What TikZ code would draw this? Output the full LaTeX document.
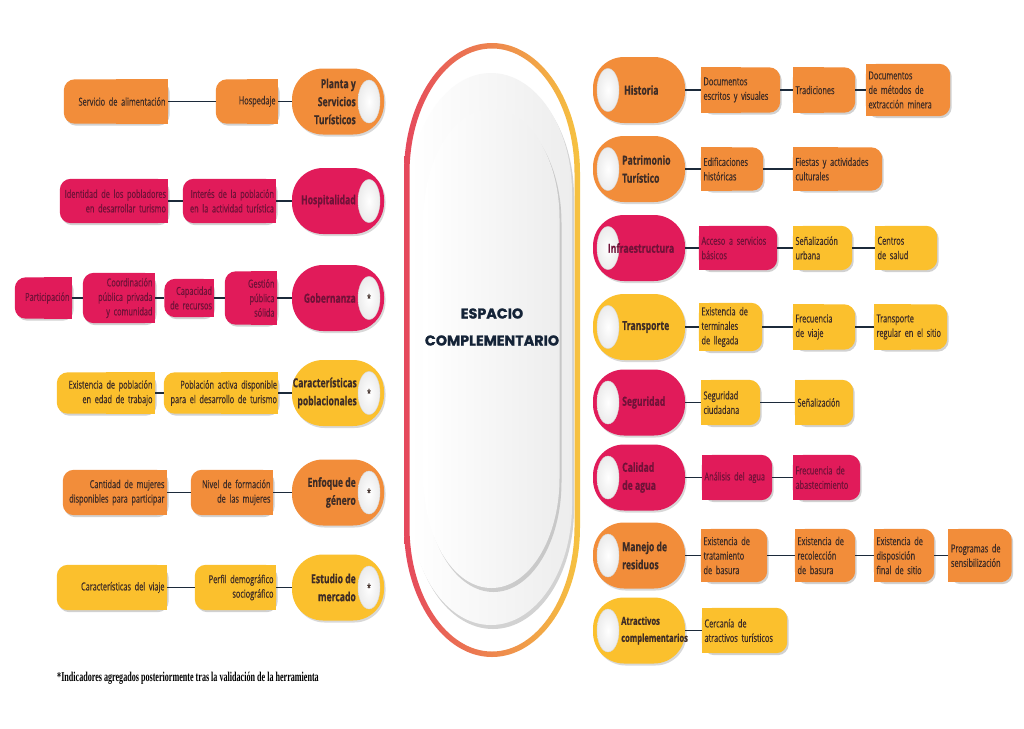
\documentclass[tikz,border=0pt]{standalone}
\usepackage{fontspec}
\setmainfont{Open Sans}[FakeStretch=0.67,FakeBold=0.5]
\newfontfamily\headfont{Open Sans}[FakeStretch=0.69,FakeBold=0.6]
\newfontfamily\titlefont{Poppins}[FakeBold=1.2]
\newfontfamily\notefont{Liberation Serif}[FakeStretch=0.6]
\usetikzlibrary{shapes.geometric,shadows,backgrounds}

\definecolor{naranja}{RGB}{242,141,58}
\definecolor{rosa}{RGB}{225,27,90}
\definecolor{amarillo}{RGB}{251,192,45}
\definecolor{tinta}{RGB}{62,44,38}
\definecolor{tintarosa}{RGB}{112,18,56}
\definecolor{linea}{RGB}{28,42,58}
\definecolor{titulo}{RGB}{20,35,55}
\definecolor{aro1}{RGB}{229,72,92}
\definecolor{aro2}{RGB}{240,128,64}
\definecolor{aro3}{RGB}{246,195,64}

% one side square, the other side rounded
\newcommand\lshape[2]{%
  \fill[black,opacity=.18,rounded corners=11pt] ([shift={(1.5,2)}]#1.south west) rectangle ([shift={(1.5,2)}]#1.north east);
  \fill[#2,rounded corners=11pt] (#1.south west) rectangle (#1.north east);
  \fill[#2] (#1.south) rectangle (#1.north east);}
\newcommand\rshape[2]{%
  \fill[black,opacity=.18,rounded corners=11pt] ([shift={(1.5,2)}]#1.south west) rectangle ([shift={(1.5,2)}]#1.north east);
  \fill[#2,rounded corners=11pt] (#1.south west) rectangle (#1.north east);
  \fill[#2] (#1.south west) rectangle (#1.north);}

\tikzset{
  link/.style={draw=linea, line width=1.8pt},
  pill/.style={rectangle, rounded corners=31pt, minimum width=92pt, minimum height=66pt, fill=#1,
    drop shadow={opacity=.3, shadow xshift=1.5pt, shadow yshift=-2pt}},
  hole/.style={ellipse, minimum width=22pt, minimum height=43pt, inner sep=0pt, draw=gray!30,
    inner color=white, outer color=gray!15, text=tinta, font=\fontsize{11}{11}\selectfont},
  headl/.style={anchor=east, align=right, inner sep=0pt, text=tinta,
    font=\headfont\bfseries\fontsize{12.5}{18}\selectfont},
  headr/.style={headl, anchor=west, align=left},
  lbox/.style={text width=#1, align=right, inner xsep=2.5pt, inner ysep=2pt, minimum height=44pt,
    text=tinta, font=\fontsize{11}{14.5}\selectfont},
  rbox/.style={lbox=#1, align=left},
  hgt/.style={minimum height=#1},
  onpink/.style={text=tintarosa},
  capsule/.style n args={5}{insert path={(#1-#4,#2+#5) arc[start angle=180, end angle=360, x radius=#4, y radius=#5]
    -- (#1+#4,#3-#5) arc[start angle=0, end angle=180, x radius=#4, y radius=#5] -- cycle}}
}

\begin{document}
\begin{tikzpicture}[x=1pt,y=-1pt]
\useasboundingbox (0,0) rectangle (1024,728);

% centre
\shade[left color=aro1, middle color=aro2, right color=aro3, even odd rule]
  [capsule={492}{43}{657}{88}{130}] [capsule={492}{48.5}{651.5}{82.5}{125}];
\path[left color=white, right color=gray!14, drop shadow={opacity=.35, shadow xshift=2pt, shadow yshift=-4pt}]
  [capsule={491}{73}{625}{81}{120}];
\path[left color=white, right color=gray!14, drop shadow={opacity=.35, shadow xshift=2pt, shadow yshift=-4pt}]
  [capsule={491.5}{109}{588}{68}{110}];
\node[font=\titlefont\bfseries\fontsize{14.3}{27}\selectfont, text=titulo, align=center] (titulo) at (492,327) {ESPACIO\\COMPLEMENTARIO};

% left side
\node[lbox=99pt] (serv) at (116,101.5) {Servicio de alimentación};
\node[lbox=57pt] (hosp) at (247,101.5) {Hospedaje};
\node[pill=naranja] (plan) at (338,101.5) {};
\node[headl] (plan-t) at (356,101.5) {Planta y\\Servicios\\Turísticos};
\node[hole] (plan-h) at (369,101.5) {};

\node[lbox=104pt, onpink, inner xsep=2pt] (iden) at (114,201) {Identidad de los pobladores\\en desarrollar turismo};
\node[lbox=89pt, onpink, inner xsep=2pt] (inte) at (229.5,201) {Interés de la población\\en la actividad turística};
\node[pill=rosa] (hospi) at (338,201) {};
\node[headl, onpink] (hospi-t) at (356,201) {Hospitalidad};
\node[hole] (hospi-h) at (369,201) {};

\node[lbox=52pt, onpink, hgt=41pt] (part) at (43.5,298) {Participación};
\node[lbox=67pt, onpink, hgt=50pt] (coor) at (119,298) {Coordinación\\pública privada\\y comunidad};
\node[lbox=46pt, onpink, hgt=38pt, inner xsep=1.5pt] (capa) at (189,298) {Capacidad\\de recursos};
\node[lbox=47pt, onpink, hgt=53pt] (gest) at (251,298) {Gestión\\pública\\sólida};
\node[pill=rosa] (gobe) at (338,298) {};
\node[headl, onpink] (gobe-t) at (356,298) {Gobernanza};
\node[hole] (gobe-h) at (369,298) {*};

\node[lbox=93pt, hgt=41pt] (exis) at (106,393) {Existencia de población\\en edad de trabajo};
\node[lbox=112pt, hgt=41pt, inner xsep=1pt] (pobl) at (221,393) {Población activa disponible\\para el desarrollo de turismo};
\node[pill=amarillo] (cara) at (338,393) {};
\node[headl] (cara-t) at (357,393) {Características\\poblacionales};
\node[hole] (cara-h) at (369,393) {*};

\node[lbox=99pt, hgt=45pt] (cant) at (115,492.5) {Cantidad de mujeres\\disponibles para participar};
\node[lbox=77pt, hgt=45pt] (nive) at (232,492.5) {Nivel de formación\\de las mujeres};
\node[pill=naranja] (enfo) at (338,492.5) {};
\node[headl] (enfo-t) at (356,492.5) {Enfoque de\\género};
\node[hole] (enfo-h) at (369,492.5) {*};

\node[lbox=105pt, hgt=45pt] (viaj) at (112,587.5) {Características del viaje};
\node[lbox=76pt, hgt=45pt] (perf) at (235.5,587.5) {Perfil demográfico\\sociográfico};
\node[pill=amarillo] (estu) at (338,587.5) {};
\node[headl] (estu-t) at (356,587.5) {Estudio de\\mercado};
\node[hole] (estu-h) at (369,587.5) {*};

% right side
\node[pill=naranja] (hist) at (639,90) {};
\node[hole] (hist-h) at (608,90) {};
\node[headr] (hist-t) at (624,90) {Historia};
\node[rbox=74pt, hgt=45pt] (doc1) at (740.5,90) {Documentos\\escritos y visuales};
\node[rbox=57pt, hgt=45pt] (trad) at (824,90) {Tradiciones};
\node[rbox=79pt, hgt=52pt] (doc2) at (908,90) {Documentos\\de métodos de\\extracción minera};

\node[pill=naranja] (patr) at (639,169) {};
\node[hole] (patr-h) at (608,169) {};
\node[headr] (patr-t) at (622,169) {Patrimonio\\Turístico};
\node[rbox=57pt, hgt=43pt] (edif) at (732,169) {Edificaciones\\históricas};
\node[rbox=84pt, hgt=43pt] (fies) at (837.5,169) {Fiestas y actividades\\culturales};

\node[pill=rosa] (infr) at (639,248) {};
\node[hole] (infr-h) at (608,248) {};
\node[headr, onpink, anchor=center] (infr-t) at (641,248) {Infraestructura};
\node[rbox=73pt, onpink] (acce) at (738,248) {Acceso a servicios\\básicos};
\node[rbox=54pt] (senu) at (822.5,248) {Señalización\\urbana};
\node[rbox=57pt] (cent) at (906,248) {Centros\\de salud};

\node[pill=amarillo] (tran) at (639,327) {};
\node[hole] (tran-h) at (608,327) {};
\node[headr] (tran-t) at (622,327) {Transporte};
\node[rbox=58pt, hgt=48pt] (term) at (730.5,327) {Existencia de\\terminales\\de llegada};
\node[rbox=57pt, hgt=45pt] (frec) at (824,327) {Frecuencia\\de viaje};
\node[rbox=68pt, hgt=45pt] (treg) at (910.5,327) {Transporte\\regular en el sitio};

\node[pill=rosa] (segu) at (639,402.5) {};
\node[hole] (segu-h) at (608,402.5) {};
\node[headr, onpink] (segu-t) at (622,402.5) {Seguridad};
\node[rbox=54pt, hgt=45pt] (segc) at (730.5,402.5) {Seguridad\\ciudadana};
\node[rbox=53pt, hgt=45pt] (sena) at (824,402.5) {Señalización};

\node[pill=rosa] (cali) at (639,477.5) {};
\node[hole] (cali-h) at (608,477.5) {};
\node[headr, onpink] (cali-t) at (622,477.5) {Calidad\\de agua};
\node[rbox=65pt, onpink, hgt=45pt] (anal) at (737,477.5) {Análisis del agua};
\node[rbox=62pt, onpink, hgt=45pt] (abas) at (826.5,477.5) {Frecuencia de\\abastecimiento};

\node[pill=naranja] (mane) at (639,555.5) {};
\node[hole] (mane-h) at (608,555.5) {};
\node[headr] (mane-t) at (622,555.5) {Manejo de\\residuos};
\node[rbox=61pt, hgt=53pt] (trat) at (734,555.5) {Existencia de\\tratamiento\\de basura};
\node[rbox=55pt, hgt=53pt] (reco) at (825,555.5) {Existencia de\\recolección\\de basura};
\node[rbox=55pt, hgt=53pt] (disp) at (904,555.5) {Existencia de\\disposición\\final de sitio};
\node[rbox=58pt, hgt=53pt] (prog) at (980,555.5) {Programas de\\sensibilización};

\node[pill=amarillo] (atra) at (639,630.5) {};
\node[hole] (atra-h) at (608,630.5) {};
\node[headr, font=\headfont\bfseries\fontsize{11}{17}\selectfont] (atra-t) at (621,630.5) {Atractivos\\complementarios};
\node[rbox=80pt, hgt=45pt] (cerc) at (744.5,630.5) {Cercanía de\\atractivos turísticos};

\node[anchor=base west, inner sep=0pt, font=\notefont\bfseries\fontsize{13.5}{13.5}\selectfont] (nota) at (57,681)
  {*Indicadores agregados posteriormente tras la validación de la herramienta};

% connectors
\foreach \a/\b in {serv/hosp, hosp/plan, iden/inte, inte/hospi, part/coor, coor/capa, capa/gest, gest/gobe,
  exis/pobl, pobl/cara, cant/nive, nive/enfo, viaj/perf, perf/estu,
  hist/doc1, doc1/trad, trad/doc2, patr/edif, edif/fies, infr/acce, acce/senu, senu/cent,
  tran/term, term/frec, frec/treg, segu/segc, segc/sena, cali/anal, anal/abas,
  mane/trat, trat/reco, reco/disp, disp/prog, atra/cerc}
  \draw[link] (\a) -- (\b);

\begin{pgfonlayer}{background}
\fill[white] (0,0) rectangle (1024,728);
\foreach \n/\c in {serv/naranja, hosp/naranja, iden/rosa, inte/rosa, part/rosa, coor/rosa, capa/rosa, gest/rosa,
  exis/amarillo, pobl/amarillo, cant/naranja, nive/naranja, viaj/amarillo, perf/amarillo}
  {\lshape{\n}{\c}}
\foreach \n/\c in {doc1/naranja, trad/naranja, doc2/naranja, edif/naranja, fies/naranja,
  acce/rosa, senu/amarillo, cent/amarillo, term/amarillo, frec/amarillo, treg/amarillo,
  segc/amarillo, sena/amarillo, anal/rosa, abas/rosa,
  trat/naranja, reco/naranja, disp/naranja, prog/naranja, cerc/amarillo}
  {\rshape{\n}{\c}}
\end{pgfonlayer}
\end{tikzpicture}
\end{document}
